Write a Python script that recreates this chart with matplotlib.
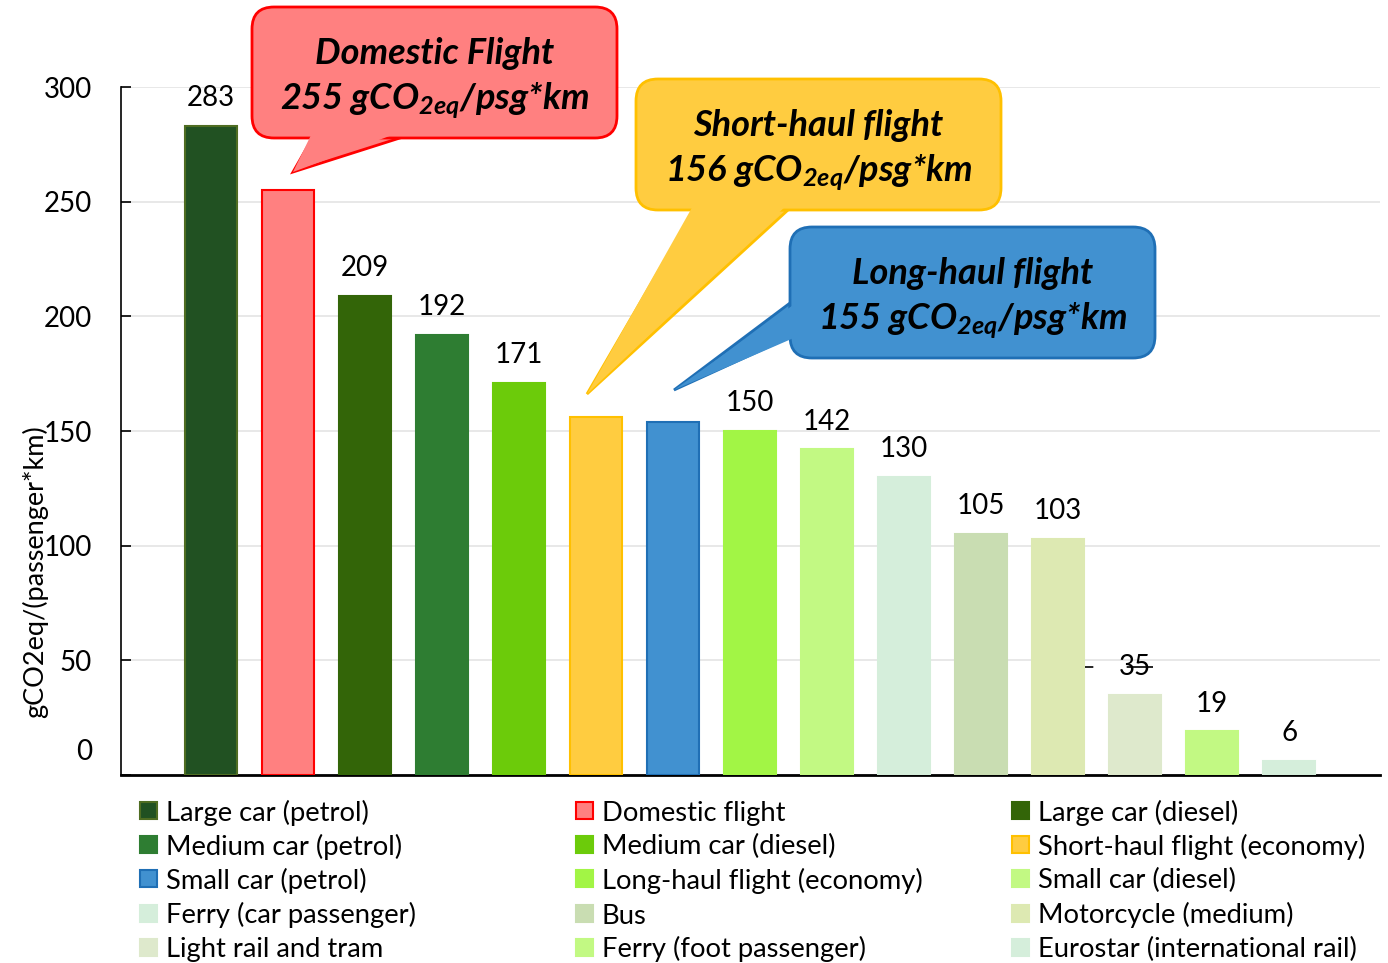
import numpy as np
import matplotlib
matplotlib.use("Agg")
import matplotlib.pyplot as plt
from matplotlib.patches import FancyBboxPatch, Polygon, Rectangle
from matplotlib.transforms import Affine2D
from matplotlib.ticker import FuncFormatter

plt.rcParams['font.family'] = ['Lato', 'DejaVu Sans']
plt.rcParams['mathtext.fontset'] = 'custom'
plt.rcParams['mathtext.bfit'] = 'Lato:italic:bold'
plt.rcParams['mathtext.it'] = 'Lato:italic:bold'
plt.rcParams['mathtext.rm'] = 'Lato:italic:bold'

# ---------------- data ----------------
categories = ["Large car (petrol)", "Domestic flight", "Large car (diesel)",
              "Medium car (petrol)", "Medium car (diesel)", "Short-haul flight (economy)",
              "Small car (petrol)", "Long-haul flight (economy)", "Small car (diesel)",
              "Ferry (car passenger)", "Bus", "Motorcycle (medium)",
              "Light rail and tram", "Ferry (foot passenger)", "Eurostar (international rail)"]
values = [283, 255, 209, 192, 171, 156, 154, 150, 142, 130, 105, 103, 35, 19, 6]
value_labels = ["283", None, "209", "192", "171", None, None, "150", "142", "130",
                "105", "103", "35", "19", "6"]
face_colors = ["#215122", "#ff8080", "#336508", "#2e7d32", "#6ccb0a", "#ffcc40",
               "#4191d0", "#a2f545", "#c2f983", "#d5eedb", "#c9ddb2", "#dde9b2",
               "#dee9cc", "#c2f983", "#d5eedb"]
edge_colors = ["#4f6d22", "#ff0000", "#336508", "#2e7d32", "#6ccb0a", "#ffc000",
               "#1f6fb5", "#a2f545", "#c2f983", "#d5eedb", "#c9ddb2", "#dde9b2",
               "#dee9cc", "#c2f983", "#d5eedb"]
yticks = [0, 50, 100, 150, 200, 250, 300]
ylabel = "gCO2eq/(passenger*km)"
callouts = [
    ("Domestic Flight", "255", "#ff8080", "#ff0000"),
    ("Short-haul flight", "156", "#ffcc40", "#ffc000"),
    ("Long-haul flight", "155", "#4191d0", "#1f6fb5"),
]

W, H, DPI = 1388, 963, 100
FS = 20
fig = plt.figure(figsize=(W / DPI, H / DPI), dpi=DPI)
ax = fig.add_axes([121 / W, 1 - 775 / H, (1380 - 121) / W, (775 - 87) / H])

x = np.arange(len(values))
bars = ax.bar(x, values, width=0.675, color=face_colors, edgecolor=edge_colors,
              linewidth=1.5, zorder=3)
ax.set_xlim(-1.17, 15.18)
ax.set_ylim(0, 300)
ax.set_yticks(yticks)
ax.yaxis.set_major_formatter(FuncFormatter(lambda v, p: "" if v == 0 else f"{v:.0f}"))
ax.tick_params(axis='y', direction='in', length=7, width=1.2, labelsize=FS, pad=21)
ax.set_xticks([])
ax.grid(axis='y', color='#e6e6e6', lw=1.3, zorder=0)
for s in ['top', 'right']:
    ax.spines[s].set_visible(False)
ax.spines['left'].set_linewidth(1.2)
ax.spines['bottom'].set_linewidth(2)
# the "0" label sits a little above the baseline in the reference
ax.annotate("0", xy=(0, 0), xycoords=('axes fraction', 'data'),
            xytext=(-21, 16.5), textcoords='offset points', ha='right', va='center',
            fontsize=FS)

for xi, v, lab in zip(x, values, value_labels):
    if lab is None:
        continue
    ax.annotate(lab, xy=(xi, v), xytext=(0, 20), textcoords='offset points',
                ha='center', va='center', fontsize=FS)

# small dashed leader through the "35" label
ax.plot([11.35, 12.23], [47.1, 47.1], color='black', lw=1.2,
        dashes=(5, 20, 25, 100), zorder=5)

fig.text(35 / W, 1 - 572 / H, ylabel, rotation=90, ha='center', va='center', fontsize=19.5)

# ---------------- callouts (pixel coordinates) ----------------
px = Affine2D().scale(1 / DPI, -1 / DPI).translate(0, H / DPI) + fig.dpi_scale_trans
boxes = [(252, 7, 617, 138), (636, 79, 1001, 210), (790, 227, 1155, 358)]
pointers = [[(313, 131), (293, 172), (403, 131)],
            [(694, 204), (587, 394), (788, 204)],
            [(796, 303), (674, 390), (796, 337)]]
pointer_outline = [[(313, 137), (293, 172), (403, 137)],
                   [(694, 210), (587, 394), (788, 210)],
                   [(790, 303), (674, 390), (790, 337)]]
for (title, num, fc, ec), (x0, y0, x1, y1), ptr, pout in zip(callouts, boxes, pointers, pointer_outline):
    fig.patches.append(Polygon(pout, closed=True, facecolor=fc, edgecolor=ec, lw=2,
                               transform=px, figure=fig, joinstyle='miter'))
    fig.patches.append(FancyBboxPatch((x0, y0), x1 - x0, y1 - y0,
                                      boxstyle="round,pad=0,rounding_size=22",
                                      facecolor=fc, edgecolor=ec, lw=2,
                                      transform=px, figure=fig))
    fig.patches.append(Polygon(ptr, closed=True, facecolor=fc, edgecolor='none',
                               transform=px, figure=fig))
    cx = (x0 + x1) / 2
    fig.text(cx, y0 + 46, title, transform=px, ha='center', va='center',
             fontsize=26, fontweight='bold', style='italic')
    fig.text(cx, y0 + 94, num + r" gCO$_{\mathbfit{2eq}}$/psg*km", transform=px,
             ha='center', va='center', fontsize=26, fontweight='bold', style='italic')

# ---------------- legend: three columns, row-major order ----------------
col_x = [140, 576, 1012]
row_y = [811, 845, 879, 914, 948]
for i, (name, fc, ec) in enumerate(zip(categories, face_colors, edge_colors)):
    r, c = divmod(i, 3)
    lx, ly = col_x[c], row_y[r]
    fig.patches.append(Rectangle((lx, ly - 8.5), 17, 17, facecolor=fc, edgecolor=ec,
                                 lw=1.5, transform=px, figure=fig))
    fig.text(lx + 26, ly + 9.5, name, transform=px, ha='left', va='baseline',
             fontsize=19.7)

fig.savefig("out.png", dpi=DPI)
